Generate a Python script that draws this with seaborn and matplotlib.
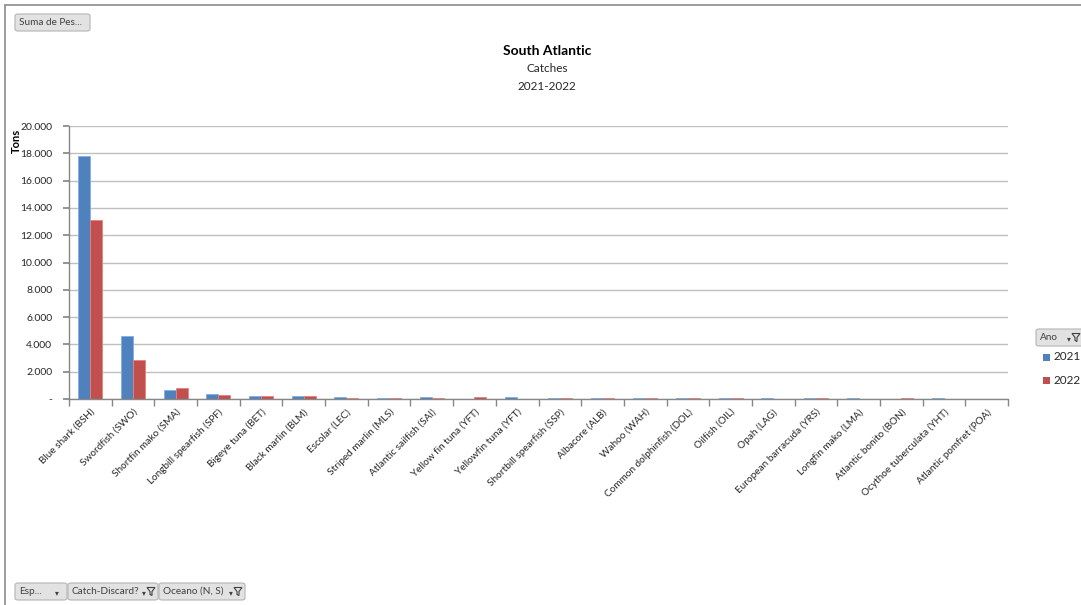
import matplotlib
matplotlib.use("Agg")
import matplotlib.pyplot as plt
from matplotlib.patches import FancyBboxPatch, Polygon, Rectangle
from matplotlib.lines import Line2D
from matplotlib.ticker import FuncFormatter, FixedLocator
import numpy as np
import pandas as pd
import seaborn as sns

# Catch weight (tons) per species, South Atlantic
species = [
    "Blue shark (BSH)", "Swordfish (SWO)", "Shortfin mako (SMA)",
    "Longbill spearfish (SPF)", "Bigeye tuna (BET)", "Black marlin (BLM)",
    "Escolar (LEC)", "Striped marlin (MLS)", "Atlantic sailfish (SAI)",
    "Yellow fin tuna (YFT)", "Yellowfin tuna (YFT)", "Shortbill spearfish (SSP)",
    "Albacore (ALB)", "Wahoo (WAH)", "Common dolphinfish (DOL)", "Oilfish (OIL)",
    "Opah (LAG)", "European barracuda (YRS)", "Longfin mako (LMA)",
    "Atlantic bonito (BON)", "Ocythoe tuberculata (YHT)", "Atlantic pomfret (POA)",
]
tons_2021 = [17800, 4650, 680, 390, 200, 200, 130, 90, 130, 0, 130, 60,
             60, 60, 60, 60, 60, 60, 60, 0, 60, 0]
tons_2022 = [13150, 2870, 790, 300, 250, 200, 100, 90, 100, 130, 0, 60,
             60, 60, 60, 60, 0, 60, 0, 60, 0, 0]
years = ["2021", "2022"]
y_ticks = [0, 2000, 4000, 6000, 8000, 10000, 12000, 14000, 16000, 18000, 20000]

df = pd.DataFrame({
    "Especie": species * 2,
    "Ano": [years[0]] * len(species) + [years[1]] * len(species),
    "Tons": tons_2021 + tons_2022,
})

BLUE = "#4F81BD"
RED = "#C0504D"
GRID = "#BFBFBF"
AXIS = "#878787"
TXT = "#262626"

sns.set_theme(style="white")
plt.rcParams["font.family"] = ["Lato", "DejaVu Sans"]

W, H = 1081, 605
fig = plt.figure(figsize=(W / 100, H / 100), dpi=100)
fig.patch.set_facecolor("white")


def fx(px):
    return px / W


def fy(py):
    return 1 - py / H


ax = fig.add_axes([fx(69), fy(399), fx(1008) - fx(69), fy(126) - fy(399)])

sns.barplot(data=df, x="Especie", y="Tons", hue="Ano", order=species,
            hue_order=years, palette=[BLUE, RED], width=0.56,
            saturation=1, ax=ax, legend=False)
for patch in ax.patches:
    if patch.get_height() <= 0:
        patch.set_visible(False)
        continue
    fc = patch.get_facecolor()
    patch.set_edgecolor(tuple(min(1, c + 0.18) for c in fc[:3]))
    patch.set_linewidth(0.6)

ax.set_ylim(0, 20000)
ax.set_xlim(-0.5, len(species) - 0.5)
ax.yaxis.set_major_locator(FixedLocator(y_ticks))
ax.yaxis.set_major_formatter(FuncFormatter(
    lambda v, p: "-" if v == 0 else f"{v:,.0f}".replace(",", ".")))
ax.grid(axis="y", color=GRID, linewidth=1.0)
ax.set_axisbelow(True)
for side in ["top", "right"]:
    ax.spines[side].set_visible(False)
for side in ["left", "bottom"]:
    ax.spines[side].set_color(AXIS)
    ax.spines[side].set_linewidth(1.0)

ax.set_xlabel("")
ax.set_ylabel("")
ax.tick_params(axis="y", which="major", length=4, color=AXIS, labelsize=7.5,
               labelcolor=TXT, pad=8, left=True)
ax.tick_params(axis="x", which="major", length=0, labelsize=7.2, labelcolor=TXT,
               pad=6)
ax.set_xticks(np.arange(len(species)))
ax.set_xticklabels(species, rotation=45, ha="right", rotation_mode="anchor")
ax.set_xticks(np.arange(-0.5, len(species)), minor=True)
ax.tick_params(axis="x", which="minor", length=5, color=AXIS, bottom=True)

fig.text(fx(16), fy(141), "Tons", rotation=90, ha="center", va="center",
         fontsize=8, fontweight="bold", color="black")

# Titles
fig.text(fx(547), fy(51), "South Atlantic", ha="center", va="center",
         fontsize=10, fontweight="bold", color="black")
fig.text(fx(547), fy(69), "Catches", ha="center", va="center",
         fontsize=8.5, color=TXT)
fig.text(fx(547), fy(86), "2021-2022", ha="center", va="center",
         fontsize=8.5, color=TXT)

# Outer frame (left and top)
fig.add_artist(Line2D([fx(5), fx(5)], [fy(5), 0], color="#8C8C8C", lw=1.2))
fig.add_artist(Line2D([fx(5), 1], [fy(5), fy(5)], color="#8C8C8C", lw=1.2))


def funnel_icon(cx, cy):
    fig.text(fx(cx - 7), fy(cy + 1), "▾", ha="center", va="center",
             fontsize=5.5, color="#404040", family=["DejaVu Sans"])
    pts = [(cx - 4, cy - 4), (cx + 4, cy - 4), (cx + 1, cy),
           (cx + 1, cy + 4), (cx - 1, cy + 3), (cx - 1, cy)]
    fig.add_artist(Polygon([(fx(a), fy(b)) for a, b in pts], closed=True,
                           transform=fig.transFigure, facecolor="none",
                           edgecolor="#404040", linewidth=0.8))


def button(x0, y0, x1, y1, label, funnel=False, arrow=False):
    fig.add_artist(FancyBboxPatch(
        (fx(x0), fy(y1)), fx(x1) - fx(x0), fy(y0) - fy(y1),
        boxstyle="round,pad=0,rounding_size=0.003", transform=fig.transFigure,
        facecolor="#E2E2E2", edgecolor="#B4B4B4", linewidth=0.8))
    fig.text(fx(x0 + 4), fy((y0 + y1) / 2), label, ha="left", va="center",
             fontsize=7.2, color="#404040")
    if arrow:
        fig.text(fx(x1 - 10), fy((y0 + y1) / 2 + 1), "▾", ha="center",
                 va="center", fontsize=5.5, color="#404040",
                 family=["DejaVu Sans"])
    if funnel:
        funnel_icon(x1 - 7, (y0 + y1) / 2)


button(15, 14, 90, 31, "Suma de Pes...")
button(15, 583, 67, 600, "Esp...", arrow=True)
button(68, 583, 158, 600, "Catch-Discard?", funnel=True)
button(159, 583, 245, 600, "Oceano (N, S)", funnel=True)
button(1036, 329, 1090, 346, "Ano")
funnel_icon(1076, 337.5)

# Legend entries
for i, (yr, col) in enumerate(zip(years, [BLUE, RED])):
    yc = 357 + 23 * i
    fig.add_artist(Rectangle((fx(1043), fy(yc + 3.5)), fx(7), fy(0) - fy(7),
                             transform=fig.transFigure, facecolor=col,
                             edgecolor="none"))
    fig.text(fx(1054), fy(yc), yr, ha="left", va="center", fontsize=8.5,
             color=TXT)

fig.savefig("out.png", dpi=100, facecolor="white")
